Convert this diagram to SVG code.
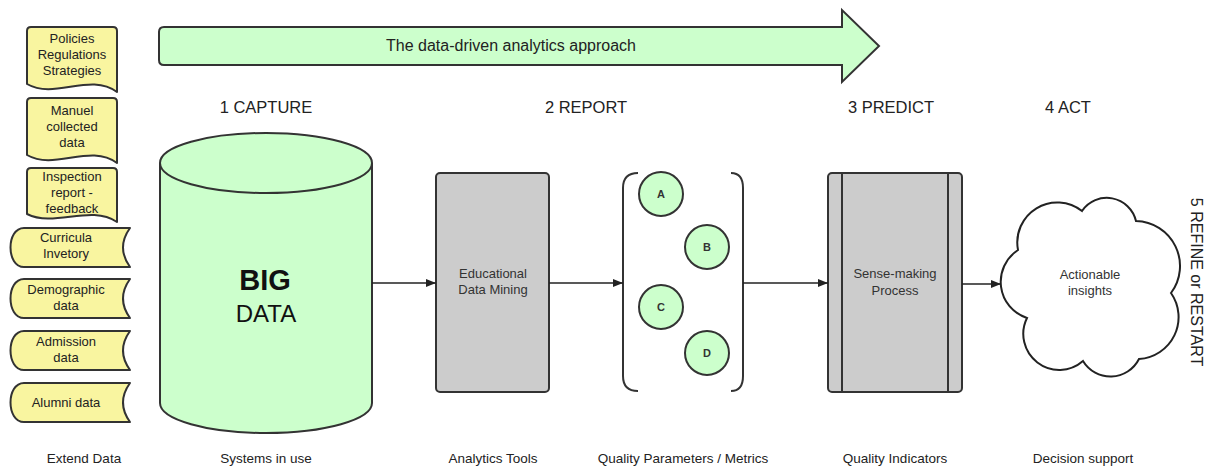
<svg xmlns="http://www.w3.org/2000/svg" width="1208" height="467" viewBox="0 0 1208 467">
<style>
text{font-family:"Liberation Sans",Arial,sans-serif;fill:#222;text-anchor:middle}
.doc{fill:#f9f5a0;stroke:#333;stroke-width:2;stroke-linejoin:round}
.green{fill:#ccffcc;stroke:#333;stroke-width:2}
.grey{fill:#cccccc;stroke:#333;stroke-width:2}
.s13{font-size:13px}
.lbl{font-size:13.5px}
.step{font-size:16.5px}
.node{font-size:13px;fill:#333}
.conn{stroke:#222;stroke-width:1.6;fill:none;marker-end:url(#ah)}
.circ{font-size:11px;font-weight:bold;fill:#333}
</style>
<defs>
<marker id="ah" viewBox="0 0 10 8" refX="10" refY="4" markerWidth="10" markerHeight="8" markerUnits="userSpaceOnUse" orient="auto">
<path d="M0,0 L10,4 L0,8 Z" fill="#222"/>
</marker>
</defs>
<rect width="1208" height="467" fill="#fff"/>

<g id="main-arrow">
<path class="green" d="M164 27 L842 27 L842 10 L879 46 L842 82 L842 65 L164 65 Q159 65 159 60 L159 32 Q159 27 164 27 Z"/>
<text x="511" y="51" style="font-size:16px">The data-driven analytics approach</text>
</g>

<g id="step-labels">
<text class="step" x="266" y="113">1 CAPTURE</text>
<text class="step" x="586" y="113">2 REPORT</text>
<text class="step" x="891" y="113">3 PREDICT</text>
<text class="step" x="1068" y="113">4 ACT</text>
<text style="font-size:16px" transform="translate(1191,282) rotate(90)">5 REFINE or RESTART</text>
</g>

<g id="doc-policies">
<path class="doc" d="M27 31 Q27 27 31 27 L113 27 Q117 27 117 31 L117 92 C90 72 55 100 27 84 Z"/>
<text class="s13" x="72" y="43">Policies</text>
<text class="s13" x="72" y="59">Regulations</text>
<text class="s13" x="72" y="75">Strategies</text>
</g>
<g id="doc-manuel">
<path class="doc" d="M27 102 Q27 98 31 98 L113 98 Q117 98 117 102 L117 163 C90 143 55 171 27 155 Z"/>
<text class="s13" x="72" y="115">Manuel</text>
<text class="s13" x="72" y="131">collected</text>
<text class="s13" x="72" y="147">data</text>
</g>
<g id="doc-inspection">
<path class="doc" d="M27 172 Q27 168 31 168 L113 168 Q117 168 117 172 L117 222 C90 204 55 228 27 214 Z"/>
<text class="s13" x="72" y="181">Inspection</text>
<text class="s13" x="72" y="197">report -</text>
<text class="s13" x="72" y="213">feedback</text>
</g>

<g id="data-curricula">
<path class="doc" d="M24 228 L130 228 Q116 247.5 130 267 L24 267 C6 267 6 228 24 228 Z"/>
<text class="s13" x="66" y="242">Curricula</text>
<text class="s13" x="66" y="258">Invetory</text>
</g>
<g id="data-demographic">
<path class="doc" d="M24 279 L130 279 Q116 298.5 130 318 L24 318 C6 318 6 279 24 279 Z"/>
<text class="s13" x="66" y="294">Demographic</text>
<text class="s13" x="66" y="310">data</text>
</g>
<g id="data-admission">
<path class="doc" d="M24 331 L130 331 Q116 350.5 130 370 L24 370 C6 370 6 331 24 331 Z"/>
<text class="s13" x="66" y="346">Admission</text>
<text class="s13" x="66" y="362">data</text>
</g>
<g id="data-alumni">
<path class="doc" d="M24 383 L130 383 Q116 402.5 130 422 L24 422 C6 422 6 383 24 383 Z"/>
<text class="s13" x="66" y="407">Alumni data</text>
</g>

<g id="big-data">
<path class="green" d="M160 163 L160 403 A106 30 0 0 0 372 403 L372 163"/>
<ellipse class="green" cx="266" cy="163" rx="106" ry="30"/>
<text x="265" y="290" style="font-size:29px;font-weight:bold;fill:#111">BIG</text>
<text x="266" y="322" style="font-size:24px;fill:#111">DATA</text>
</g>

<g id="edm">
<rect class="grey" x="436" y="173" width="113" height="219" rx="4"/>
<text class="node" x="493" y="278">Educational</text>
<text class="node" x="493" y="294">Data Mining</text>
</g>

<g id="metrics">
<path d="M638 173 Q623 173 623 188 L623 376 Q623 391 638 391" fill="none" stroke="#333" stroke-width="2"/>
<path d="M731 173 Q743 173 743 188 L743 376 Q743 391 731 391" fill="none" stroke="#333" stroke-width="2"/>
<g id="circle-a"><circle class="green" cx="661" cy="194" r="22"/><text class="circ" x="661" y="198">A</text></g>
<g id="circle-b"><circle class="green" cx="707" cy="247" r="22"/><text class="circ" x="707" y="251">B</text></g>
<g id="circle-c"><circle class="green" cx="661" cy="307" r="22"/><text class="circ" x="661" y="311">C</text></g>
<g id="circle-d"><circle class="green" cx="707" cy="353" r="22"/><text class="circ" x="707" y="357">D</text></g>
</g>

<g id="sense-making">
<rect class="grey" x="828" y="173" width="134" height="219" rx="4"/>
<line x1="842" y1="173" x2="842" y2="392" stroke="#333" stroke-width="2"/>
<line x1="948" y1="173" x2="948" y2="392" stroke="#333" stroke-width="2"/>
<text class="node" x="895" y="278">Sense-making</text>
<text class="node" x="895" y="295">Process</text>
</g>

<g id="insights">
<path d="M1018 250 A40 40 0 0 1 1082 211 A30 30 0 0 1 1136 221 A45 45 0 0 1 1171 293 A42 42 0 0 1 1139 359 A32 32 0 0 1 1083 361 A36 36 0 0 1 1027 318 A38 38 0 0 1 1018 250 Z" fill="#fff" stroke="#222" stroke-width="2"/>
<text class="node" x="1090" y="279">Actionable</text>
<text class="node" x="1090" y="295">insights</text>
</g>

<g id="connectors">
<line class="conn" x1="372" y1="283" x2="436" y2="283"/>
<line class="conn" x1="549" y1="283" x2="623" y2="283"/>
<line class="conn" x1="743" y1="283" x2="828" y2="283"/>
<line class="conn" x1="962" y1="284" x2="1001" y2="284"/>
</g>

<g id="bottom-labels">
<text class="lbl" x="84" y="463">Extend Data</text>
<text class="lbl" x="266" y="463">Systems in use</text>
<text class="lbl" x="493" y="463">Analytics Tools</text>
<text class="lbl" x="683" y="463">Quality Parameters / Metrics</text>
<text class="lbl" x="895" y="463">Quality Indicators</text>
<text class="lbl" x="1083" y="463">Decision support</text>
</g>
</svg>
